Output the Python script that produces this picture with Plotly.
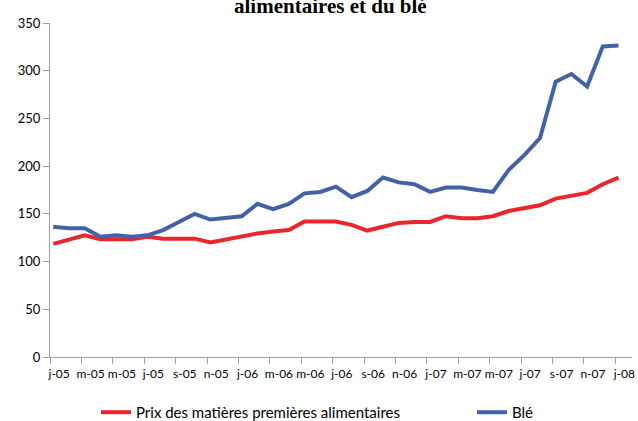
import plotly.graph_objects as go

# monthly data, Jan 2005 -> Jan 2008
tick_labels = ["j-05", "m-05", "m-05", "j-05", "s-05", "n-05",
               "j-06", "m-06", "m-06", "j-06", "s-06", "n-06",
               "j-07", "m-07", "m-07", "j-07", "s-07", "n-07", "j-08"]

prix_matieres = [118.5, 123, 127.5, 123.5, 124, 123.5, 126, 124, 124, 124,
                 120, 123.5, 126, 129.5, 131.5, 133, 142, 142, 142, 138.5,
                 132.5, 136.5, 140.5, 141.5, 141.5, 147.5, 145.5, 145.5, 147.5, 153,
                 155.5, 159, 166, 169.5, 172, 181, 188]

ble = [136.5, 135, 135, 126, 127.5, 126, 127.5, 133, 141.5, 150,
       144, 145.5, 147.5, 160.5, 155, 160.5, 171.5, 173, 178.5, 167.5,
       174, 188, 183, 181, 173, 177.5, 177.5, 175, 173, 196,
       211.5, 229.5, 288.5, 296.5, 283.5, 325.5, 326.5]

months = list(range(len(ble)))
tick_pos = [2 * k - 0.2 for k in range(len(tick_labels))]

red = "#E8262B"
blue = "#4262A8"
axis_grey = "#A0A0A0"

fig = go.Figure()
fig.add_trace(go.Scatter(x=months, y=prix_matieres, mode="lines",
                         name="Prix des matières premières alimentaires",
                         line=dict(color=red, width=4), legend="legend"))
fig.add_trace(go.Scatter(x=months, y=ble, mode="lines", name="Blé",
                         line=dict(color=blue, width=4), legend="legend2"))

fig.add_annotation(text="<b>alimentaires et du blé</b>", xref="paper", yref="paper",
                   x=0.482, y=1.05, xanchor="center", yanchor="middle", showarrow=False,
                   font=dict(family="Liberation Serif", size=21, color="black"))

legend_style = dict(orientation="h", y=-0.166, xanchor="left", yanchor="middle",
                    font=dict(family="Lato", size=15), bgcolor="rgba(0,0,0,0)")

fig.update_layout(
    width=638, height=421,
    margin=dict(l=50, r=6, t=23, b=64, autoexpand=False),
    plot_bgcolor="white", paper_bgcolor="white",
    font=dict(family="Lato", size=13, color="black"),
    showlegend=True,
    legend=dict(x=0.079, **legend_style),
    legend2=dict(x=0.725, **legend_style),
)
fig.update_xaxes(range=[-0.21, 36.86], tickmode="array", tickvals=tick_pos,
                 ticktext=tick_labels, ticks="outside", ticklen=6, tickcolor=axis_grey,
                 ticklabelshift=9, showline=True, linecolor=axis_grey, linewidth=1,
                 showgrid=False, zeroline=False, tickfont=dict(size=12), automargin=False)
fig.update_yaxes(range=[0, 350], dtick=50, ticks="outside", ticklen=6,
                 tickcolor=axis_grey, showline=True, linecolor=axis_grey, linewidth=1,
                 showgrid=False, zeroline=False, tickfont=dict(size=13), automargin=False)

# page default body margin would push the figure 8px right/down
fig.write_html("out.html", config={"displayModeBar": False},
               post_script="document.body.style.margin='0px';")
